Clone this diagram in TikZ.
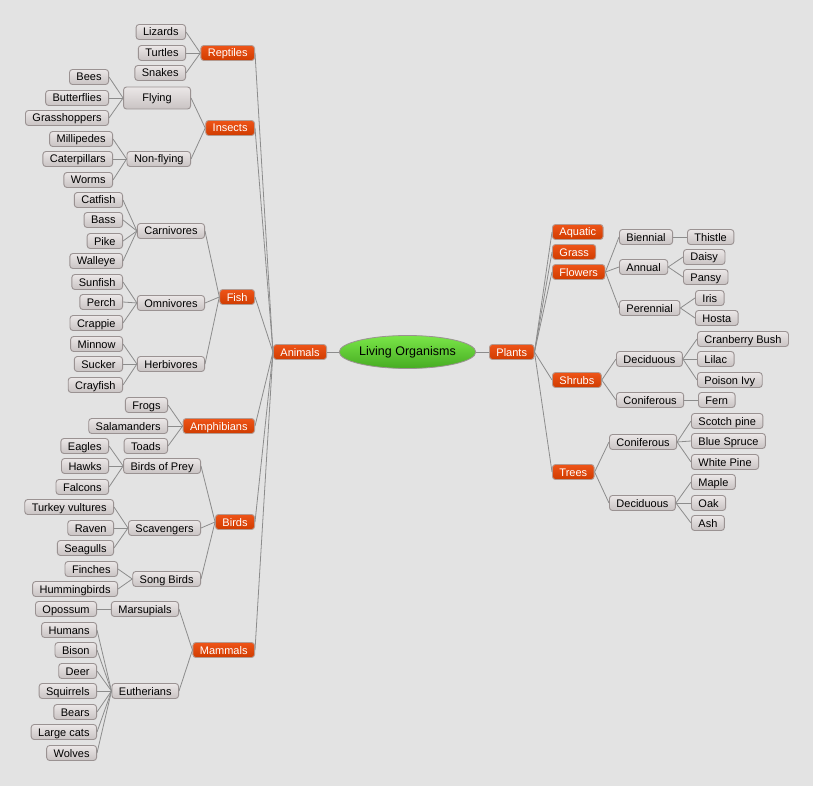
\documentclass[tikz,border=0pt]{standalone}
\usepackage{fontspec}
\setmainfont{Liberation Sans}
\usepackage{tikz}
\usetikzlibrary{shapes}

\begin{document}
\begin{tikzpicture}[x=1pt, y=-1pt, font=\fontsize{11}{13}\selectfont]

  % Define Colors
  \definecolor{bgray}{HTML}{E3E3E3}
  \definecolor{leaftop}{HTML}{EBE7E7}
  \definecolor{leafbot}{HTML}{C9C3C3}
  \definecolor{boxline}{HTML}{9A9292}
  \definecolor{cattop}{HTML}{EE5418}
  \definecolor{catbot}{HTML}{D03C00}
  \definecolor{catline}{HTML}{B49A90}
  \definecolor{greentop}{HTML}{7AE648}
  \definecolor{greenbot}{HTML}{46AC22}
  \definecolor{linkgray}{HTML}{8C8C8C}

  % Node styles
  \tikzstyle{leaf}=[rectangle, rounded corners=3pt, draw=boxline, line width=0.9pt, top color=leaftop, bottom color=leafbot, inner xsep=7pt, inner ysep=0pt, text height=8.5pt, text depth=0.5pt, minimum height=15pt, text=black]
  \tikzstyle{cat}=[leaf, draw=catline, top color=cattop, bottom color=catbot, text=white]
  \tikzstyle{root}=[ellipse, draw=boxline, line width=0.8pt, top color=greentop, bottom color=greenbot, minimum width=123pt, minimum height=33pt, inner sep=0pt, font=\fontsize{12.5}{14}\selectfont]
  \tikzstyle{link}=[draw=linkgray, line width=0.8pt]

  % Background
  \fill[bgray] (0,0) rectangle (813,786);

  % Nodes
  \node[root] (n_liv) at (407.5,352) {Living Organisms};
  \node[cat, anchor=east] (n_anim) at (327,352) {Animals};
  \node[cat, anchor=west] (n_pla) at (489,352) {Plants};

  % Reptiles
  \node[cat, anchor=east] (n_rep) at (255,53) {Reptiles};
  \node[leaf, anchor=east] (n_liz) at (186,32) {Lizards};
  \node[leaf, anchor=east] (n_tur) at (186,53) {Turtles};
  \node[leaf, anchor=east] (n_sna) at (186,73) {Snakes};

  % Insects
  \node[cat, anchor=east] (n_ins) at (255,128) {Insects};
  \node[leaf, anchor=east, minimum width=67pt, minimum height=22pt] (n_fly) at (191,98) {Flying};
  \node[leaf, anchor=east] (n_bee) at (109,77) {Bees};
  \node[leaf, anchor=east] (n_but) at (109,98) {Butterflies};
  \node[leaf, anchor=east] (n_gra) at (109,118) {Grasshoppers};
  \node[leaf, anchor=east] (n_nfl) at (191,159) {Non-flying};
  \node[leaf, anchor=east] (n_mil) at (113,139) {Millipedes};
  \node[leaf, anchor=east] (n_cat) at (113,159) {Caterpillars};
  \node[leaf, anchor=east] (n_wor) at (113,180) {Worms};

  % Fish
  \node[cat, anchor=east] (n_fis) at (255,297) {Fish};
  \node[leaf, anchor=east] (n_car) at (205,231) {Carnivores};
  \node[leaf, anchor=east] (n_cfi) at (123,200) {Catfish};
  \node[leaf, anchor=east] (n_bas) at (123,220) {Bass};
  \node[leaf, anchor=east] (n_pik) at (123,241) {Pike};
  \node[leaf, anchor=east] (n_wal) at (123,261) {Walleye};
  \node[leaf, anchor=east] (n_omn) at (205,303) {Omnivores};
  \node[leaf, anchor=east] (n_sun) at (123,282) {Sunfish};
  \node[leaf, anchor=east] (n_per) at (123,302) {Perch};
  \node[leaf, anchor=east] (n_cra) at (123,323) {Crappie};
  \node[leaf, anchor=east] (n_her) at (205,364) {Herbivores};
  \node[leaf, anchor=east] (n_min) at (123,344) {Minnow};
  \node[leaf, anchor=east] (n_suc) at (123,364) {Sucker};
  \node[leaf, anchor=east] (n_cry) at (123,385) {Crayfish};

  % Amphibians
  \node[cat, anchor=east] (n_amp) at (255,426) {Amphibians};
  \node[leaf, anchor=east] (n_fro) at (168,405) {Frogs};
  \node[leaf, anchor=east] (n_sal) at (168,426) {Salamanders};
  \node[leaf, anchor=east] (n_toa) at (168,446) {Toads};

  % Birds
  \node[cat, anchor=east] (n_bir) at (255,522) {Birds};
  \node[leaf, anchor=east] (n_bop) at (201,466) {Birds of Prey};
  \node[leaf, anchor=east] (n_eag) at (109,446) {Eagles};
  \node[leaf, anchor=east] (n_haw) at (109,466) {Hawks};
  \node[leaf, anchor=east] (n_fal) at (109,487) {Falcons};
  \node[leaf, anchor=east] (n_sca) at (201,528) {Scavengers};
  \node[leaf, anchor=east] (n_tvu) at (114,507) {Turkey vultures};
  \node[leaf, anchor=east] (n_rav) at (114,528) {Raven};
  \node[leaf, anchor=east] (n_sea) at (114,548) {Seagulls};
  \node[leaf, anchor=east] (n_son) at (201,579) {Song Birds};
  \node[leaf, anchor=east] (n_fin) at (118,569) {Finches};
  \node[leaf, anchor=east] (n_hum) at (118,589) {Hummingbirds};

  % Mammals
  \node[cat, anchor=east] (n_mam) at (255,650) {Mammals};
  \node[leaf, anchor=east] (n_mar) at (179,609) {Marsupials};
  \node[leaf, anchor=east] (n_opo) at (97,609) {Opossum};
  \node[leaf, anchor=east] (n_eut) at (179,691) {Eutherians};
  \node[leaf, anchor=east] (n_hmn) at (97,630) {Humans};
  \node[leaf, anchor=east] (n_bis) at (97,650) {Bison};
  \node[leaf, anchor=east] (n_dee) at (97,671) {Deer};
  \node[leaf, anchor=east] (n_squ) at (97,691) {Squirrels};
  \node[leaf, anchor=east] (n_bea) at (97,712) {Bears};
  \node[leaf, anchor=east] (n_lca) at (97,732) {Large cats};
  \node[leaf, anchor=east] (n_wol) at (97,753) {Wolves};

  % Plants side
  \node[cat, anchor=west] (n_aqu) at (552,232) {Aquatic};
  \node[cat, anchor=west] (n_grs) at (552,252) {Grass};
  \node[cat, anchor=west] (n_flo) at (552,272) {Flowers};
  \node[cat, anchor=west] (n_shr) at (552,380) {Shrubs};
  \node[cat, anchor=west] (n_tre) at (552,472) {Trees};

  % Flowers
  \node[leaf, anchor=west] (n_bie) at (619,237) {Biennial};
  \node[leaf, anchor=west] (n_thi) at (687,237) {Thistle};
  \node[leaf, anchor=west] (n_ann) at (619,267) {Annual};
  \node[leaf, anchor=west] (n_dai) at (683,257) {Daisy};
  \node[leaf, anchor=west] (n_pan) at (683,277) {Pansy};
  \node[leaf, anchor=west] (n_pre) at (619,308) {Perennial};
  \node[leaf, anchor=west] (n_iri) at (695,298) {Iris};
  \node[leaf, anchor=west] (n_hos) at (695,318) {Hosta};

  % Shrubs
  \node[leaf, anchor=west] (n_sde) at (616,359) {Deciduous};
  \node[leaf, anchor=west] (n_crb) at (697,339) {Cranberry Bush};
  \node[leaf, anchor=west] (n_lil) at (697,359) {Lilac};
  \node[leaf, anchor=west] (n_poi) at (697,380) {Poison Ivy};
  \node[leaf, anchor=west] (n_sco) at (616,400) {Coniferous};
  \node[leaf, anchor=west] (n_fer) at (698,400) {Fern};

  % Trees
  \node[leaf, anchor=west] (n_tco) at (609,442) {Coniferous};
  \node[leaf, anchor=west] (n_scp) at (691,421) {Scotch pine};
  \node[leaf, anchor=west] (n_blu) at (691,441) {Blue Spruce};
  \node[leaf, anchor=west] (n_whi) at (691,462) {White Pine};
  \node[leaf, anchor=west] (n_tde) at (609,503) {Deciduous};
  \node[leaf, anchor=west] (n_map) at (691,482) {Maple};
  \node[leaf, anchor=west] (n_oak) at (691,503) {Oak};
  \node[leaf, anchor=west] (n_ash) at (691,523) {Ash};

  % Links, left side (child.east -- parent.west)
  \foreach \a/\b in {n_anim/n_liv, n_rep/n_anim, n_ins/n_anim, n_fis/n_anim, n_amp/n_anim, n_bir/n_anim, n_mam/n_anim,
      n_liz/n_rep, n_tur/n_rep, n_sna/n_rep,
      n_fly/n_ins, n_nfl/n_ins, n_bee/n_fly, n_but/n_fly, n_gra/n_fly, n_mil/n_nfl, n_cat/n_nfl, n_wor/n_nfl,
      n_car/n_fis, n_omn/n_fis, n_her/n_fis,
      n_cfi/n_car, n_bas/n_car, n_pik/n_car, n_wal/n_car, n_sun/n_omn, n_per/n_omn, n_cra/n_omn, n_min/n_her, n_suc/n_her, n_cry/n_her,
      n_fro/n_amp, n_sal/n_amp, n_toa/n_amp,
      n_bop/n_bir, n_sca/n_bir, n_son/n_bir,
      n_eag/n_bop, n_haw/n_bop, n_fal/n_bop, n_tvu/n_sca, n_rav/n_sca, n_sea/n_sca, n_fin/n_son, n_hum/n_son,
      n_mar/n_mam, n_eut/n_mam, n_opo/n_mar,
      n_hmn/n_eut, n_bis/n_eut, n_dee/n_eut, n_squ/n_eut, n_bea/n_eut, n_lca/n_eut, n_wol/n_eut}
    \draw[link] (\a.east) -- (\b.west);

  % Links, right side (parent.east -- child.west)
  \foreach \a/\b in {n_liv/n_pla, n_pla/n_aqu, n_pla/n_grs, n_pla/n_flo, n_pla/n_shr, n_pla/n_tre,
      n_flo/n_bie, n_flo/n_ann, n_flo/n_pre, n_bie/n_thi, n_ann/n_dai, n_ann/n_pan, n_pre/n_iri, n_pre/n_hos,
      n_shr/n_sde, n_shr/n_sco, n_sde/n_crb, n_sde/n_lil, n_sde/n_poi, n_sco/n_fer,
      n_tre/n_tco, n_tre/n_tde, n_tco/n_scp, n_tco/n_blu, n_tco/n_whi, n_tde/n_map, n_tde/n_oak, n_tde/n_ash}
    \draw[link] (\a.east) -- (\b.west);

\end{tikzpicture}
\end{document}
